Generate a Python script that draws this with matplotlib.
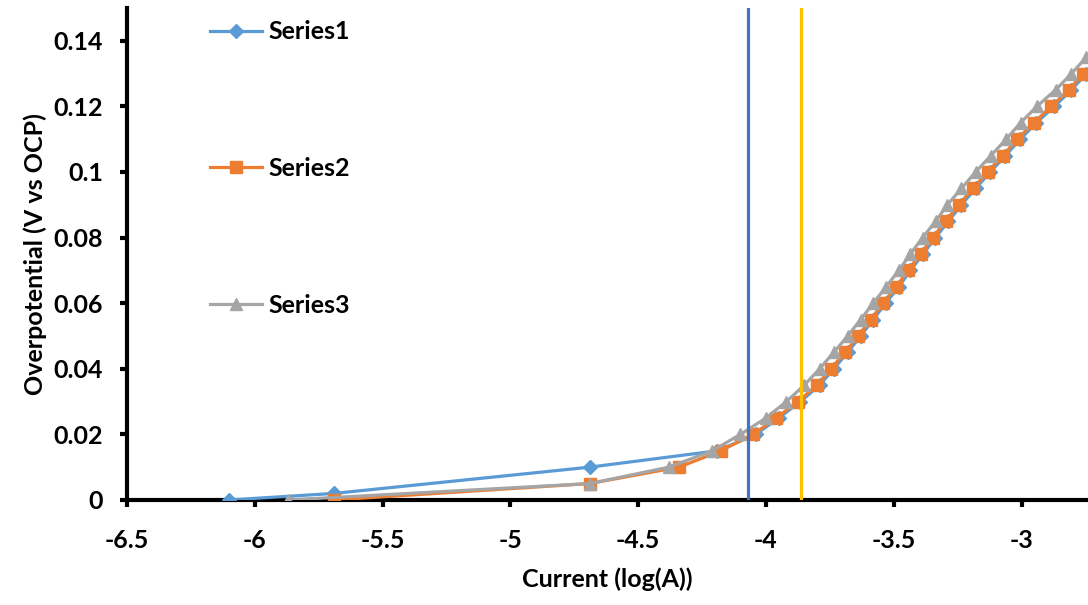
import matplotlib.pyplot as plt
from matplotlib.ticker import FuncFormatter, MultipleLocator

plt.rcParams['font.family'] = ['Lato', 'DejaVu Sans']
plt.rcParams['font.weight'] = 'bold'

# overpotential steps shared by the upper part of all curves
eta_s1 = [0, 0.002, 0.01, 0.015, 0.02, 0.025, 0.03, 0.035, 0.04, 0.045, 0.05,
          0.055, 0.06, 0.065, 0.07, 0.075, 0.08, 0.085, 0.09, 0.095, 0.1,
          0.105, 0.11, 0.115, 0.12, 0.125, 0.13]
logi_s1 = [-6.10, -5.69, -4.69, -4.19, -4.04, -3.95, -3.865, -3.79, -3.735,
           -3.68, -3.63, -3.58, -3.532, -3.48, -3.435, -3.385, -3.337, -3.286,
           -3.235, -3.18, -3.122, -3.063, -3.005, -2.942, -2.872, -2.805, -2.747]

eta_s2 = [0, 0.005, 0.01, 0.015, 0.02, 0.025, 0.03, 0.035, 0.04, 0.045, 0.05,
          0.055, 0.06, 0.065, 0.07, 0.075, 0.08, 0.085, 0.09, 0.095, 0.1,
          0.105, 0.11, 0.115, 0.12, 0.125, 0.13]
logi_s2 = [-5.69, -4.69, -4.34, -4.176, -4.05, -3.96, -3.875, -3.80, -3.746,
           -3.69, -3.64, -3.59, -3.543, -3.49, -3.445, -3.395, -3.348, -3.297,
           -3.246, -3.19, -3.133, -3.074, -3.016, -2.953, -2.883, -2.816, -2.758]

eta_s3 = [0, 0.005, 0.01, 0.015, 0.02, 0.025, 0.03, 0.035, 0.04, 0.045, 0.05,
          0.055, 0.06, 0.065, 0.07, 0.075, 0.08, 0.085, 0.09, 0.095, 0.1,
          0.105, 0.11, 0.115, 0.12, 0.125, 0.13, 0.135]
logi_s3 = [-5.87, -4.69, -4.38, -4.21, -4.10, -4.00, -3.92, -3.85, -3.79,
           -3.735, -3.68, -3.63, -3.58, -3.53, -3.48, -3.435, -3.387, -3.336,
           -3.29, -3.235, -3.18, -3.12, -3.06, -3.004, -2.94, -2.867, -2.805, -2.746]

vline_blue = -4.07
vline_yellow = -3.863

fig = plt.figure(figsize=(10.88, 6.05), dpi=100)
ax = fig.add_axes([0.1167, 0.1736, 0.8833, 0.8132])

ax.plot(logi_s1, eta_s1, color='#5B9BD5', lw=2.3, marker='D', ms=7.5, label='Series1', zorder=3)
ax.plot(logi_s2, eta_s2, color='#ED7D31', lw=2.3, marker='s', ms=8, label='Series2', zorder=4)
ax.plot(logi_s3, eta_s3, color='#A5A5A5', lw=2.3, marker='^', ms=9, label='Series3', zorder=5)

ax.axvline(vline_blue, color='#4472C4', lw=2.3, zorder=6)
ax.axvline(vline_yellow, color='#FFC000', lw=2.3, zorder=6)

ax.set_xlim(-6.5, -2.74)
ax.set_ylim(0, 0.15)
ax.xaxis.set_major_locator(MultipleLocator(0.5))
ax.yaxis.set_major_locator(MultipleLocator(0.02))
ax.xaxis.set_major_formatter(FuncFormatter(lambda v, p: f"{v:g}"))
ax.yaxis.set_major_formatter(FuncFormatter(lambda v, p: f"{v:g}"))

for s in ['top', 'right']:
    ax.spines[s].set_visible(False)
for s in ['left', 'bottom']:
    ax.spines[s].set_linewidth(3)
    ax.spines[s].set_zorder(2)
ax.tick_params(axis='both', direction='out', length=5, width=3, labelsize=18)
ax.tick_params(axis='x', pad=16)
ax.tick_params(axis='y', pad=12)

ax.set_xlabel('Current (log(A))', fontsize=18, fontweight='bold', labelpad=11)
ax.set_ylabel('Overpotential (V vs OCP)', fontsize=18, fontweight='bold', labelpad=5)

ax.legend(loc='upper left', bbox_to_anchor=(0.086, 0.975), frameon=False,
          prop={'size': 18, 'weight': 'bold'}, handlelength=2.1, handletextpad=0.25,
          labelspacing=4.55, borderpad=0, borderaxespad=0)

fig.savefig('out.png', dpi=100)
